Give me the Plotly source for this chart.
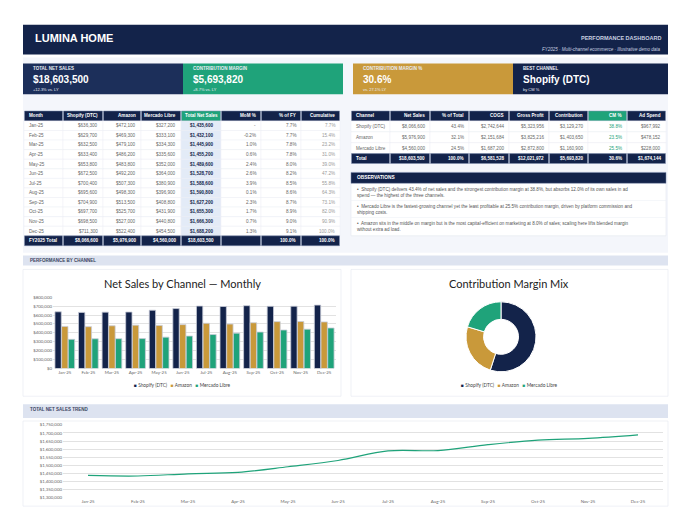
import plotly.graph_objects as go

W, H = 680, 517
NAVY = "#13234a"
GOLD = "#c9993a"
GREEN = "#1fa37a"
FONT = "Liberation Sans"

months = ["Jan-25", "Feb-25", "Mar-25", "Apr-25", "May-25", "Jun-25",
          "Jul-25", "Aug-25", "Sep-25", "Oct-25", "Nov-25", "Dec-25"]
shopify = [636300, 629700, 632500, 633400, 653800, 672500, 700400, 695600, 704900, 697700, 698500, 711300]
amazon = [472100, 469300, 479100, 486200, 483800, 492200, 507300, 498300, 513500, 525700, 527000, 522400]
mercado = [327200, 333100, 334300, 335600, 352000, 364000, 380900, 396900, 408800, 431900, 440800, 454500]
totals = [1435600, 1432100, 1445900, 1455200, 1489600, 1528700, 1588600, 1590800, 1627200, 1655300, 1666300, 1688200]
mom = ["-", "-0.2%", "1.0%", "0.6%", "2.4%", "2.6%", "3.9%", "0.1%", "2.3%", "1.7%", "0.7%", "1.3%"]
pct_fy = ["7.7%", "7.7%", "7.8%", "7.8%", "8.0%", "8.2%", "8.5%", "8.6%", "8.7%", "8.9%", "9.0%", "9.1%"]
cumul = ["7.7%", "15.4%", "23.2%", "31.0%", "39.0%", "47.2%", "55.8%", "64.3%", "73.1%", "82.0%", "90.9%", "100.0%"]

channels = ["Shopify (DTC)", "Amazon", "Mercado Libre"]
ch_sales = [8066600, 5976900, 4560000]
ch_share = ["43.4%", "32.1%", "24.5%"]
ch_cogs = [2742644, 2151684, 1687200]
ch_gp = [5323956, 3825216, 2872800]
ch_contrib = [3129270, 1403650, 1160900]
ch_cm = ["38.8%", "23.5%", "25.5%"]
ch_ad = [967992, 478152, 228000]

observations = [
    "Shopify (DTC) delivers 43.4% of net sales and the strongest contribution margin at 38.8%, but absorbs 12.0% of its own sales in ad<br>spend — the highest of the three channels.",
    "Mercado Libre is the fastest-growing channel yet the least profitable at 25.5% contribution margin, driven by platform commission and<br>shipping costs.",
    "Amazon sits in the middle on margin but is the most capital-efficient on marketing at 8.0% of sales; scaling here lifts blended margin<br>without extra ad load.",
]


def px_(x):
    return x / W


def py_(y):
    return 1 - y / H


def money(v):
    return f"${v:,.0f}"


shapes, annots = [], []


def rect(x0, y0, x1, y1, fill, line=None, lw=0.6):
    shapes.append(dict(type="rect", xref="paper", yref="paper", x0=px_(x0), x1=px_(x1),
                       y0=py_(y1), y1=py_(y0), fillcolor=fill, layer="below",
                       line=dict(color=line or fill, width=lw if line else 0)))


def text(x, y, s, size=6, color="white", bold=False, anchor="left", italic=False, font=FONT):
    if bold:
        s = f"<b>{s}</b>"
    if italic:
        s = f"<i>{s}</i>"
    annots.append(dict(x=px_(x), y=py_(y), xref="paper", yref="paper", text=s, showarrow=False,
                       xanchor=anchor, yanchor="middle", align="left",
                       font=dict(size=size, color=color, family=font)))


def table(edges, header, head_fills, row_ys, rows, row_fills, row_colors, aligns, bold_last=True):
    y0, y1 = row_ys[0], row_ys[1]
    for j, h in enumerate(header):
        x0, x1 = edges[j], edges[j + 1]
        rect(x0 + 0.5, y0, x1 - 0.5, y1, head_fills[j], "#8090b0", 0.5)
        xa = {"left": x0 + 3, "right": x1 - 3, "center": (x0 + x1) / 2}[aligns[j]]
        text(xa, (y0 + y1) / 2, h, 4.6, "white", bold=True, anchor=aligns[j])
    for i, row in enumerate(rows):
        y0, y1 = row_ys[i + 1], row_ys[i + 2]
        last = i == len(rows) - 1
        for j, v in enumerate(row):
            x0, x1 = edges[j], edges[j + 1]
            f = row_fills[i][j]
            if last:
                rect(x0 + 0.5, y0, x1 - 0.5, y1, f, "#8090b0", 0.5)
            else:
                rect(x0, y0, x1, y1, f, "#eceff5", 0.5)
            xa = {"left": x0 + 3, "right": x1 - 3, "center": (x0 + x1) / 2}[aligns[j]]
            text(xa, (y0 + y1) / 2, v, 4.6, row_colors[i][j], bold=last and bold_last, anchor=aligns[j])


def legend_row(xc, y, items):
    s = "   ".join(f"<span style='color:{c}'>■</span> {n}" for n, c in items)
    text(xc, y, s, 4.8, "#444", anchor="center", font="Lato")


# backgrounds
rect(15, 48, 660, 245, "#f4f6fb")
rect(15, 15, 660, 45, NAVY)
text(25, 28, "LUMINA HOME", 11, bold=True)
text(655, 28, "PERFORMANCE DASHBOARD", 5.5, "#c9d1e0", bold=True, anchor="right")
text(655, 40, "FY2025 · Multi-channel ecommerce · Illustrative demo data", 4.5, "#c9d1e0", anchor="right", italic=True)

cards = [(15, 175, "#1c2f5a", "TOTAL NET SALES", "$18,603,500", "+12.3% vs. LY"),
         (175, 335, GREEN, "CONTRIBUTION MARGIN", "$5,693,820", "+8.7% vs. LY"),
         (345, 505, GOLD, "CONTRIBUTION MARGIN %", "30.6%", "vs. 27.1% LY"),
         (505, 660, NAVY, "BEST CHANNEL", "Shopify (DTC)", "by CM %")]
for x0, x1, c, lab, val, sub in cards:
    rect(x0, 54, x1, 85, c)
    text(x0 + 8, 59, lab, 4.5, "#e8ecf4", bold=True)
    text(x0 + 8, 70, val, 10, bold=True)
    text(x0 + 8, 80, sub, 4, "#e8ecf4")

# left table
l_edges = [16, 55, 95, 133, 173, 213, 253, 293, 332]
l_ys = [102, 112] + [112 + 9.67 * (i + 1) for i in range(12)] + [238]
l_rows = []
for i in range(12):
    l_rows.append([months[i], money(shopify[i]), money(amazon[i]), money(mercado[i]),
                   f"<b>{money(totals[i])}</b>", mom[i], pct_fy[i], cumul[i]])
l_rows.append(["FY2025 Total", money(sum(shopify)), money(sum(amazon)), money(sum(mercado)),
               money(sum(totals)), "", "100.0%", "100.0%"])
l_fills = [["white"] * 4 + ["#e3ebf7"] + ["white"] * 3 for _ in range(12)] + [[NAVY] * 8]
l_colors = [["#666"] * 4 + [NAVY] + ["#666"] * 2 + ["#999"] for _ in range(12)] + [["white"] * 8]
table(l_edges, ["Month", "Shopify (DTC)", "Amazon", "Mercado Libre", "Total Net Sales", "MoM %", "% of FY",
                "Cumulative"], [NAVY] * 4 + [GREEN] + [NAVY] * 3, l_ys, l_rows, l_fills, l_colors,
      ["left", "right", "right", "right", "center", "right", "right", "right"])

# right table
r_edges = [343, 382, 422, 461, 501, 541, 580, 619, 658]
r_ys = [102, 112, 123, 134, 145, 155]
r_rows = [[channels[i], money(ch_sales[i]), ch_share[i], money(ch_cogs[i]), money(ch_gp[i]),
           money(ch_contrib[i]), ch_cm[i], money(ch_ad[i])] for i in range(3)]
r_rows.append(["Total", money(sum(ch_sales)), "100.0%", money(sum(ch_cogs)), money(sum(ch_gp)),
               money(sum(ch_contrib)), "30.6%", money(sum(ch_ad))])
r_fills = [["white"] * 8 for _ in range(3)] + [[NAVY] * 8]
r_colors = [["#666"] * 6 + [GREEN] + ["#666"] for _ in range(3)] + [["white"] * 8]
table(r_edges, ["Channel", "Net Sales", "% of Total", "COGS", "Gross Profit", "Contribution", "CM %",
                "Ad Spend"], [NAVY] * 6 + [GREEN] + [NAVY], r_ys, r_rows, r_fills, r_colors,
      ["left"] + ["right"] * 7)

# observations
rect(343, 164, 658, 228, "white", "#e4e8f0")
rect(343, 164, 658, 175, NAVY, "#8090b0", 0.5)
text(347, 169.5, "OBSERVATIONS", 4.8, bold=True)
for i, o in enumerate(observations):
    text(347, 184 + i * 17.5, "•  " + o, 4.6, "#555")
    if i < 2:
        rect(343, 192 + i * 17.5, 658, 192.6 + i * 17.5, "#eceff5")

# section bands and panels
rect(15, 248, 660, 258, "#dde3f0")
text(20, 253, "PERFORMANCE BY CHANNEL", 4.5, "#3a4560", bold=True)
rect(15, 398, 660, 412, "#dde3f0")
text(20, 403, "TOTAL NET SALES TREND", 4.5, "#3a4560", bold=True)
rect(15, 262, 333, 390, "white", "#e4e8f0")
rect(343, 262, 660, 390, "white", "#e4e8f0")
rect(15, 415, 660, 501, "white", "#e4e8f0")
text(174, 276, "Net Sales by Channel — Monthly", 11, "#222", anchor="center", font="Lato")
text(501, 276, "Contribution Margin Mix", 11, "#222", anchor="center", font="Lato")

colors = [NAVY, GOLD, GREEN]
legend_row(174, 379, list(zip(channels, colors)))
legend_row(501, 379, list(zip(channels, colors)))

fig = go.Figure()

# bar chart
for name, vals, c in zip(channels, [shopify, amazon, mercado], colors):
    fig.add_trace(go.Bar(x=months, y=vals, name=name, marker=dict(color=c, line=dict(color="#c8ccd8", width=0.8)),
                         xaxis="x", yaxis="y"))

# donut
fig.add_trace(go.Pie(labels=channels, values=ch_contrib, hole=0.5, sort=False, direction="clockwise",
                     marker=dict(colors=colors, line=dict(color="white", width=1)),
                     textinfo="none", domain=dict(x=[px_(458), px_(528)], y=[py_(366), py_(294)])))

# trend line
fig.add_trace(go.Scatter(x=months, y=totals, mode="lines", line=dict(color=GREEN, width=1.2, shape="spline"),
                         xaxis="x2", yaxis="y2"))

ax = dict(tickfont=dict(size=4.4, color="#666", family="Lato"), showline=False, zeroline=False)
fig.update_layout(
    width=W, height=H, margin=dict(l=0, r=0, t=0, b=0), paper_bgcolor="white", plot_bgcolor="white",
    shapes=shapes, annotations=annots, barmode="group", bargap=0.15, bargroupgap=0.05, showlegend=False,
    xaxis=dict(domain=[px_(45), px_(328)], showgrid=False, ticks="", tickangle=0, anchor="y", **ax),
    yaxis=dict(domain=[py_(362), py_(290)], range=[0, 800000], dtick=100000, tickprefix="$",
               tickformat=",", gridcolor="#e2e2e2", anchor="x", **ax),
    xaxis2=dict(domain=[px_(55), px_(655)], range=[-0.5, 11.5], showgrid=False, ticks="", tickangle=0,
                anchor="y2", **ax),
    yaxis2=dict(domain=[py_(492), py_(419)], range=[1300000, 1750000], dtick=50000, tickprefix="$",
                tickformat=",", gridcolor="#e2e2e2", anchor="x2", **ax),
)

fig.write_html("out.html")
